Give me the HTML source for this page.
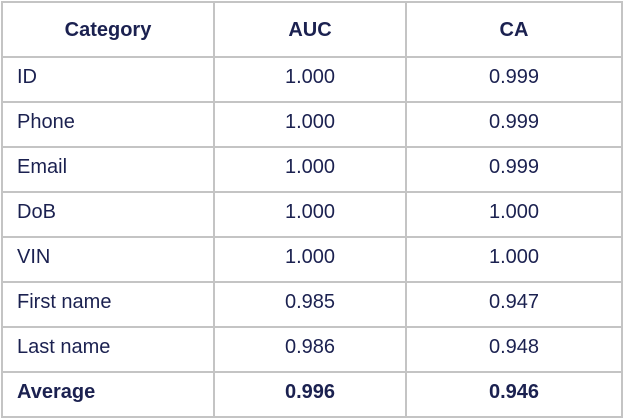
<!DOCTYPE html>
<html><head><meta charset="utf-8"><style>
html,body{margin:0;padding:0;background:#fff;width:625px;height:418px;overflow:hidden}
table{position:absolute;left:1px;top:1px;border-collapse:collapse;font-family:"Liberation Sans",sans-serif;color:#1b2150;font-size:20px}
td,th{border:2px solid #c4c4c4;padding:0;box-sizing:border-box}
th{height:55px;font-weight:bold;text-align:center;padding-top:2px}
td{height:45px;padding-bottom:4px}
td.l{text-align:left;padding-left:14px}
td.n{text-align:center}
tr.avg td{font-weight:bold}
</style></head><body>
<table>
<colgroup><col style="width:212px"><col style="width:192px"><col style="width:216px"></colgroup>
<tr><th>Category</th><th>AUC</th><th>CA</th></tr>
<tr><td class="l">ID</td><td class="n">1.000</td><td class="n">0.999</td></tr>
<tr><td class="l">Phone</td><td class="n">1.000</td><td class="n">0.999</td></tr>
<tr><td class="l">Email</td><td class="n">1.000</td><td class="n">0.999</td></tr>
<tr><td class="l">DoB</td><td class="n">1.000</td><td class="n">1.000</td></tr>
<tr><td class="l">VIN</td><td class="n">1.000</td><td class="n">1.000</td></tr>
<tr><td class="l">First name</td><td class="n">0.985</td><td class="n">0.947</td></tr>
<tr><td class="l">Last name</td><td class="n">0.986</td><td class="n">0.948</td></tr>
<tr class="avg"><td class="l">Average</td><td class="n">0.996</td><td class="n">0.946</td></tr>
</table>
</body></html>
